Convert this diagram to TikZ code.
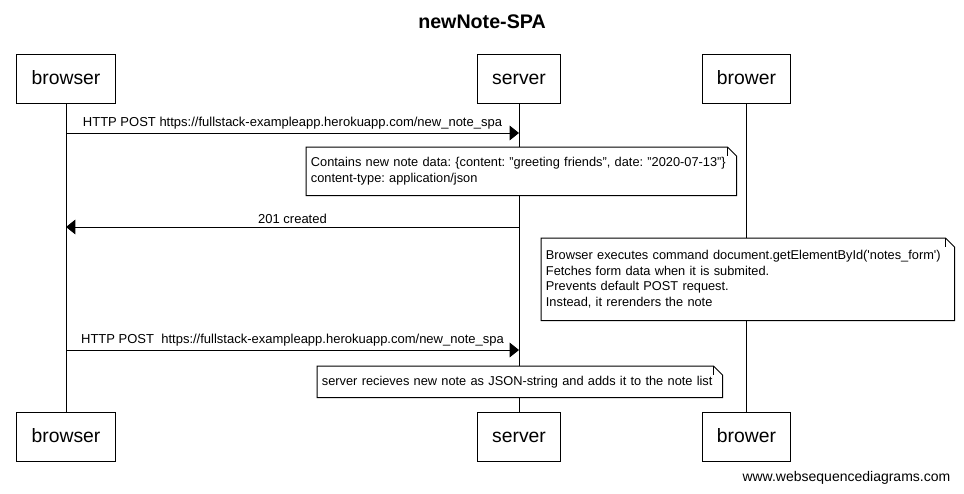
\documentclass[tikz,border=0pt]{standalone}
\usepackage{fontspec}
\setmainfont{Liberation Sans}
\usetikzlibrary{arrows.meta, positioning}
\frenchspacing

\tikzset{
  actor/.style={draw, line width=0.75pt, inner xsep=11pt, inner ysep=0pt, minimum height=36.75pt, text height=12pt, text depth=2.5pt, font=\fontsize{14.5}{17}\selectfont},
  lifeline/.style={line width=0.75pt},
  msg/.style={line width=0.75pt, -{Triangle[length=7pt,width=11pt]}},
  msglabel/.style={above, inner sep=2.5pt, font=\fontsize{9.75}{12}\selectfont},
  note/.style={fill=white, anchor=north west, inner xsep=3.5pt, inner ysep=0pt, align=left, font=\fontsize{9.6}{11.6}\selectfont},
  noteline/.style={line width=0.75pt}
}
% outline of a note with its folded corner
\newcommand{\notefold}[1]{%
  \draw[noteline] (#1.north west) -- ([xshift=-6.75pt]#1.north east) -- ([yshift=-6.75pt]#1.north east) -- (#1.south east) -- (#1.south west) -- cycle;
  \draw[noteline] ([xshift=-6.75pt]#1.north east) -- ([xshift=-6.75pt,yshift=-6.75pt]#1.north east);}

\begin{document}
\begin{tikzpicture}[x=0.75pt, y=-0.75pt]
\useasboundingbox (0,0) rectangle (964,493);

\node[font=\bfseries\fontsize{14.75}{17}\selectfont] (title) at (482,22) {newNote-SPA};

% participants
\node[actor] (browser) at (66,78.5) {browser};
\node[actor] (server) at (519,78.5) {server};
\node[actor] (brower) at (746.5,78.5) {brower};
\node[actor, below=231pt of browser] (browser2) {browser};
\node[actor, below=231pt of server] (server2) {server};
\node[actor, below=231pt of brower] (brower2) {brower};

\draw[lifeline] (browser) -- (browser2);
\draw[lifeline] (server) -- (server2);
\draw[lifeline] (brower) -- (brower2);

% messages
\coordinate (b1) at (browser |- 0,133);
\coordinate (s1) at (server |- 0,133);
\draw[msg] (b1) -- (s1) node[msglabel, midway] {HTTP POST https://fullstack-exampleapp.herokuapp.com/new\_note\_spa};

\node[note, minimum width=322.5pt, minimum height=36pt, text width=315.5pt] (note1) at (306,147)
  {Contains new note data: \{content: "greeting friends", date: "2020-07-13"\}\\[1pt]content-type: application/json};
\notefold{note1}

\coordinate (s2) at (server |- 0,227);
\coordinate (b2) at (browser |- 0,227);
\draw[msg] (s2) -- (b2) node[msglabel, midway] {201 created};

\node[note, minimum width=309.75pt, minimum height=61.5pt, text width=302.75pt] (note2) at (541,238)
  {Browser executes command document.getElementById(\textquotesingle notes\_form\textquotesingle)\\Fetches form data when it is submited.\\Prevents default POST request.\\Instead, it rerenders the note};
\notefold{note2}

\coordinate (b3) at (browser |- 0,350);
\coordinate (s3) at (server |- 0,350);
\draw[msg] (b3) -- (s3) node[msglabel, midway] {HTTP POST\ \ https://fullstack-exampleapp.herokuapp.com/new\_note\_spa};

\node[note, minimum width=303.75pt, minimum height=23.25pt, text width=296.75pt] (note3) at (317,366)
  {server recieves new note as JSON-string and adds it to the note list};
\notefold{note3}

\node[anchor=east, font=\fontsize{10.5}{12}\selectfont] (footer) at (955,478) {www.websequencediagrams.com};
\end{tikzpicture}
\end{document}
